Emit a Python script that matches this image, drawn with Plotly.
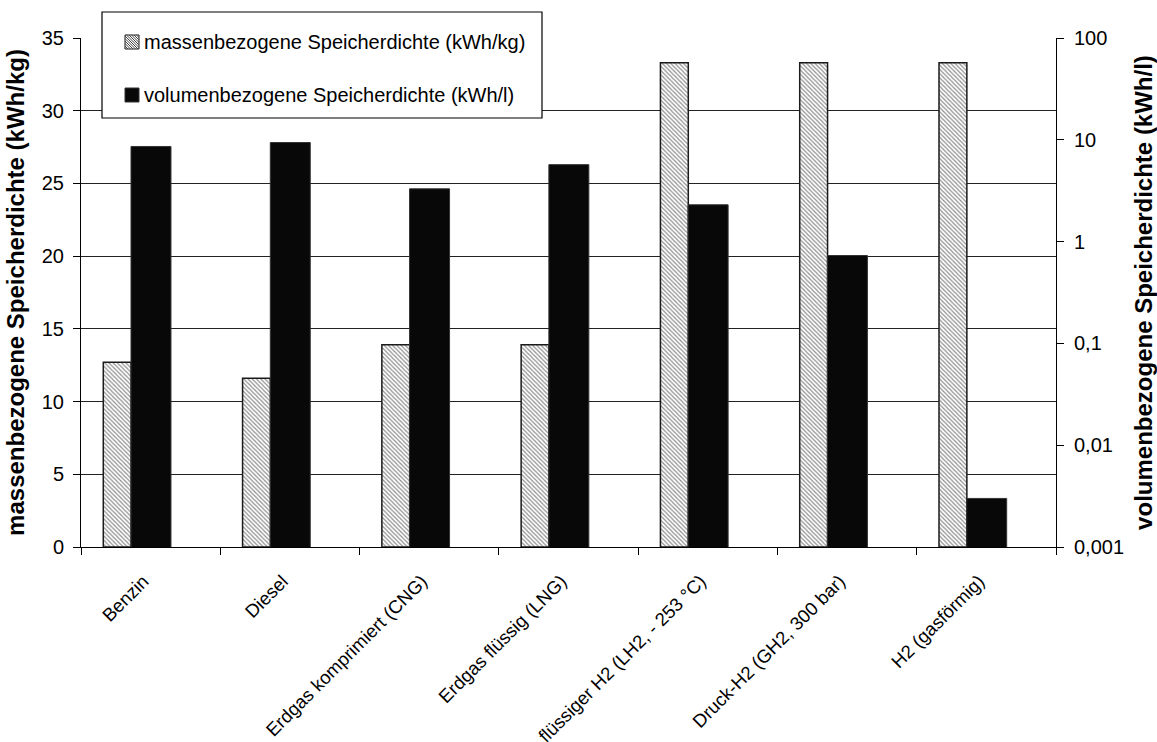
import plotly.graph_objects as go

# Kraftstoffe / Energieträger
categories = [
    "Benzin",
    "Diesel",
    "Erdgas komprimiert (CNG)",
    "Erdgas flüssig (LNG)",
    "flüssiger H2 (LH2, - 253 °C)",
    "Druck-H2 (GH2, 300 bar)",
    "H2 (gasförmig)",
]

# massenbezogene Speicherdichte in kWh/kg (linke Achse)
mass_density = [12.7, 11.6, 13.9, 13.9, 33.3, 33.3, 33.3]

# volumenbezogene Speicherdichte in kWh/l (rechte, logarithmische Achse)
volume_density = [8.6, 9.4, 3.3, 5.7, 2.3, 0.73, 0.003]

left_ticks = [0, 5, 10, 15, 20, 25, 30, 35]
right_ticks = [0.001, 0.01, 0.1, 1, 10, 100]
right_labels = ["0,001", "0,01", "0,1", "1", "10", "100"]

name_mass = "massenbezogene Speicherdichte (kWh/kg)"
name_volume = "volumenbezogene Speicherdichte (kWh/l)"

FONT = "Liberation Sans, Arial, sans-serif"

# plot area in pixels (used to place the hand-drawn legend box)
W, H = 1157, 742
ML, MR, MT, MB = 81, 101, 38, 195
PW, PH = W - ML - MR, H - MT - MB


def px(x):
    return (x - ML) / PW


def py(y):
    return (H - MB - y) / PH


fig = go.Figure()

fig.add_trace(go.Bar(
    x=categories,
    y=mass_density,
    name=name_mass,
    yaxis="y",
    offset=-0.34,
    width=0.2,
    marker=dict(
        color="white",
        pattern=dict(shape="\\", fgcolor="#1e1e1e", bgcolor="white",
                     size=3, solidity=0.4),
        line=dict(color="#1a1a1a", width=1.5),
    ),
))

fig.add_trace(go.Bar(
    x=categories,
    y=volume_density,
    name=name_volume,
    yaxis="y2",
    offset=-0.141,
    width=0.287,
    marker=dict(color="#080808", line=dict(color="#333333", width=1)),
))

# legend: frame, symbols and labels
shapes = [
    dict(type="rect", xref="paper", yref="paper",
         x0=px(102), x1=px(542), y0=py(118), y1=py(12),
         line=dict(color="black", width=1.2), fillcolor="white",
         layer="above"),
]

sym_x0, sym_x1 = 125, 139
rows = [(42, name_mass, "hatch"), (95, name_volume, "solid")]
annotations = []
for yc, label, kind in rows:
    y0, y1 = yc - 7, yc + 7
    if kind == "solid":
        shapes.append(dict(type="rect", xref="paper", yref="paper",
                           x0=px(sym_x0), x1=px(sym_x1), y0=py(y1), y1=py(y0),
                           line=dict(color="#333333", width=1),
                           fillcolor="#080808", layer="above"))
    else:
        shapes.append(dict(type="rect", xref="paper", yref="paper",
                           x0=px(sym_x0), x1=px(sym_x1), y0=py(y1), y1=py(y0),
                           line=dict(color="#1a1a1a", width=1),
                           fillcolor="#ffffff", layer="above"))
        # diagonal hatch lines running top-left to bottom-right
        segs = []
        step = 2.5
        c = (y0 - sym_x1)
        while c < (y1 - sym_x0):
            pts = []
            # intersection of y = x + c with the square
            for xx in (sym_x0, sym_x1):
                yy = xx + c
                if y0 <= yy <= y1:
                    pts.append((xx, yy))
            for yy in (y0, y1):
                xx = yy - c
                if sym_x0 <= xx <= sym_x1:
                    pts.append((xx, yy))
            if len(pts) >= 2:
                (ax, ay), (bx, by) = pts[0], pts[-1]
                segs.append(f"M{px(ax):.5f},{py(ay):.5f}L{px(bx):.5f},{py(by):.5f}")
            c += step
        shapes.append(dict(type="path", xref="paper", yref="paper",
                           path="".join(segs),
                           line=dict(color="#444444", width=1), layer="above"))
    annotations.append(dict(
        xref="paper", yref="paper", x=px(142), y=py(yc),
        xanchor="left", yanchor="middle", text=label, showarrow=False,
        font=dict(size=20, family=FONT, color="black"),
    ))

# category labels, padded so the slanted text sits a little further out
category_labels = [c + "\u00a0" * 2 for c in categories]

fig.update_layout(
    width=W,
    height=H,
    margin=dict(l=ML, r=MR, t=MT, b=MB, autoexpand=False),
    paper_bgcolor="white",
    plot_bgcolor="white",
    barmode="overlay",
    font=dict(family=FONT, color="black"),
    showlegend=False,
    xaxis=dict(
        type="category",
        automargin=False,
        tickson="boundaries",
        tickvals=categories,
        ticktext=category_labels,
        ticks="outside",
        ticklen=7,
        tickcolor="black",
        tickangle=-45,
        ticklabelstandoff=8,
        tickfont=dict(size=18.5, family=FONT),
        showline=True,
        linecolor="black",
        linewidth=1,
        showgrid=False,
        range=[-0.5, 6.5],
    ),
    yaxis=dict(
        range=[0, 35],
        automargin=False,
        tickvals=left_ticks,
        ticks="outside",
        ticklen=7,
        tickcolor="black",
        ticklabelstandoff=5,
        tickfont=dict(size=20, family=FONT),
        showline=True,
        linecolor="black",
        linewidth=1,
        showgrid=True,
        gridcolor="#222222",
        gridwidth=1,
        zeroline=False,
        title=dict(text="<b>" + name_mass + "</b>",
                   font=dict(size=24, family=FONT), standoff=10),
    ),
    yaxis2=dict(
        type="log",
        range=[-3, 2],
        automargin=False,
        overlaying="y",
        side="right",
        tickvals=right_ticks,
        ticktext=right_labels,
        ticks="outside",
        ticklen=7,
        tickcolor="black",
        ticklabelstandoff=6,
        tickfont=dict(size=20, family=FONT),
        showline=True,
        linecolor="black",
        linewidth=1,
        showgrid=False,
        zeroline=False,
        title=dict(text="<b>" + name_volume + "</b>",
                   font=dict(size=24, family=FONT), standoff=12),
    ),
    # inner half of the crossing tick marks on the right axis
    yaxis3=dict(
        type="log",
        range=[-3, 2],
        automargin=False,
        overlaying="y",
        side="right",
        anchor="x",
        tickvals=right_ticks,
        ticks="inside",
        ticklen=7,
        tickcolor="black",
        showticklabels=False,
        showline=False,
        showgrid=False,
        zeroline=False,
    ),
    shapes=shapes,
    annotations=annotations,
)

fig.write_html("out.html")
